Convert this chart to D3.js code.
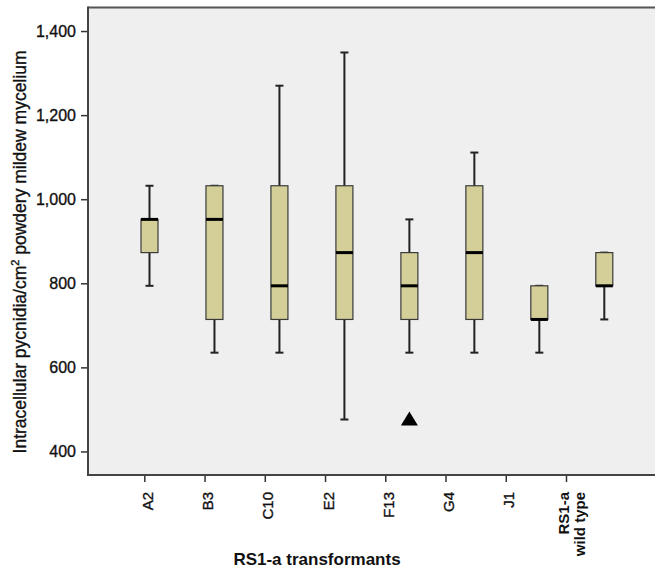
<!DOCTYPE html>
<html>
<head>
<meta charset="utf-8">
<script src="https://cdn.jsdelivr.net/npm/d3@7"></script>
<style>
  body { margin: 0; background: #fff; }
  text { font-family: "Liberation Sans", Arial, sans-serif; }
  .heavy { stroke: #111; stroke-width: 0.35px; }
</style>
</head>
<body>
<script>
// data (counts were pycnidia x 79.37 per cm2)
var categories = ["A2", "B3", "C10", "E2", "F13", "G4", "J1", "RS1-a|wild type"];
var whiskerLow = [794, 635, 635, 476, 635, 635, 635, 714];
var q1         = [873, 714, 714, 714, 714, 714, 714, 794];
var median     = [952, 952, 794, 873, 794, 873, 714, 794];
var q3         = [952, 1032, 1032, 1032, 873, 1032, 794, 873];
var whiskerHigh = [1032, 1032, 1270, 1349, 952, 1111, 794, 873];
var outliers = [{cat: "F13", value: 476}];
var yTicks = [400, 600, 800, 1000, 1200, 1400];

var w = 655, h = 571;
var plotLeft = 88, plotTop = 7.5, plotBottom = 475;

var svg = d3.select("body")
	.append("svg")
	.attr("width", w)
	.attr("height", h);

var y = d3.scaleLinear()
	.domain([344, 1456])
	.range([plotBottom, plotTop]);

// tick labels and boxes are not on the same spacing in the original
var xTick = d3.scalePoint()
	.domain(categories)
	.range([144.3, 566]);

var xBox = d3.scalePoint()
	.domain(categories)
	.range([149.5, 604.3]);

// plot background
svg.append("rect")
	.attr("x", plotLeft)
	.attr("y", plotTop)
	.attr("width", w - plotLeft)
	.attr("height", plotBottom - plotTop)
	.attr("fill", "#efefef");

var boxes = categories.map(function(c, i) {
	return {cat: c, lo: whiskerLow[i], q1: q1[i], med: median[i], q3: q3[i], hi: whiskerHigh[i]};
});

var boxW = 17, capW = 8;

var g = svg.selectAll("g.box")
	.data(boxes)
	.enter()
	.append("g")
	.attr("class", "box");

// whiskers
g.append("line")
	.attr("x1", function(d) { return xBox(d.cat); })
	.attr("x2", function(d) { return xBox(d.cat); })
	.attr("y1", function(d) { return y(d.hi); })
	.attr("y2", function(d) { return y(d.lo); })
	.attr("stroke", "#222")
	.attr("stroke-width", 2);

g.append("line")
	.attr("x1", function(d) { return xBox(d.cat) - capW / 2; })
	.attr("x2", function(d) { return xBox(d.cat) + capW / 2; })
	.attr("y1", function(d) { return y(d.hi); })
	.attr("y2", function(d) { return y(d.hi); })
	.attr("stroke", "#222")
	.attr("stroke-width", 2);

g.append("line")
	.attr("x1", function(d) { return xBox(d.cat) - capW / 2; })
	.attr("x2", function(d) { return xBox(d.cat) + capW / 2; })
	.attr("y1", function(d) { return y(d.lo); })
	.attr("y2", function(d) { return y(d.lo); })
	.attr("stroke", "#222")
	.attr("stroke-width", 2);

g.append("rect")
	.attr("x", function(d) { return xBox(d.cat) - boxW / 2; })
	.attr("y", function(d) { return y(d.q3); })
	.attr("width", boxW)
	.attr("height", function(d) { return y(d.q1) - y(d.q3); })
	.attr("fill", "#d4cf98")
	.attr("stroke", "#3a3a3a")
	.attr("stroke-width", 1.2);

g.append("line")
	.attr("x1", function(d) { return xBox(d.cat) - boxW / 2; })
	.attr("x2", function(d) { return xBox(d.cat) + boxW / 2; })
	.attr("y1", function(d) { return y(d.med); })
	.attr("y2", function(d) { return y(d.med); })
	.attr("stroke", "#000")
	.attr("stroke-width", 3);

// outlier triangle
svg.selectAll("path.outlier")
	.data(outliers)
	.enter()
	.append("path")
	.attr("class", "outlier")
	.attr("d", function(d) {
		var cx = xBox(d.cat), cy = y(d.value);
		return "M" + cx + "," + (cy - 8) + "L" + (cx + 8.5) + "," + (cy + 6) + "L" + (cx - 8.5) + "," + (cy + 6) + "Z";
	})
	.attr("fill", "#000");

// frame top
svg.append("line")
	.attr("x1", plotLeft).attr("x2", w)
	.attr("y1", plotTop).attr("y2", plotTop)
	.attr("stroke", "#555").attr("stroke-width", 2);

// y axis
var yAxis = d3.axisLeft(y)
	.tickValues(yTicks)
	.tickFormat(d3.format(","))
	.tickSize(7)
	.tickPadding(5);

var ya = svg.append("g")
	.attr("transform", "translate(" + plotLeft + ",0)")
	.call(yAxis);
ya.select(".domain").remove();
ya.selectAll(".tick line").attr("stroke", "#333").attr("stroke-width", 1.5);
ya.selectAll(".tick text")
	.attr("font-size", "16px")
	.attr("fill", "#111")
	.attr("class", "heavy")
	.style("font-family", "Liberation Sans, Arial, sans-serif");

svg.append("line")
	.attr("x1", plotLeft).attr("x2", plotLeft)
	.attr("y1", plotTop - 1).attr("y2", plotBottom + 1)
	.attr("stroke", "#444").attr("stroke-width", 2);

// x axis
var xAxis = d3.axisBottom(xTick)
	.tickSize(7)
	.tickFormat("");

var xa = svg.append("g")
	.attr("transform", "translate(0," + plotBottom + ")")
	.call(xAxis);
xa.select(".domain").remove();
xa.selectAll(".tick line").attr("stroke", "#333").attr("stroke-width", 1.5);

svg.append("line")
	.attr("x1", plotLeft - 1).attr("x2", w)
	.attr("y1", plotBottom).attr("y2", plotBottom)
	.attr("stroke", "#444").attr("stroke-width", 2);

// rotated category labels
categories.forEach(function(c) {
	var lines = c.split("|");
	lines.forEach(function(t, j) {
		var off = lines.length > 1 ? (j === 0 ? 2.5 : 18.5) : 8.5;
		svg.append("text")
			.attr("transform", "translate(" + (xTick(c) + off) + "," + (plotBottom + 17) + ") rotate(-90)")
			.attr("text-anchor", "end")
			.attr("font-size", "15px")
			.attr("font-weight", lines.length > 1 ? "bold" : "normal")
			.attr("class", lines.length > 1 ? null : "heavy")
			.attr("fill", "#111")
			.text(t);
	});
});

// axis titles
svg.append("text")
	.attr("x", 317)
	.attr("y", 565)
	.attr("text-anchor", "middle")
	.attr("font-size", "17px")
	.attr("font-weight", "bold")
	.attr("fill", "#111")
	.text("RS1-a transformants");

var yl = svg.append("text")
	.attr("transform", "translate(25.5,252) rotate(-90)")
	.attr("text-anchor", "middle")
	.attr("font-size", "17.5px")
	.attr("class", "heavy")
	.attr("fill", "#111");
yl.append("tspan").text("Intracellular pycnidia/cm");
yl.append("tspan").attr("dy", -7).attr("font-size", "11px").text("2");
yl.append("tspan").attr("dy", 7).text(" powdery mildew mycelium");
</script>
</body>
</html>
